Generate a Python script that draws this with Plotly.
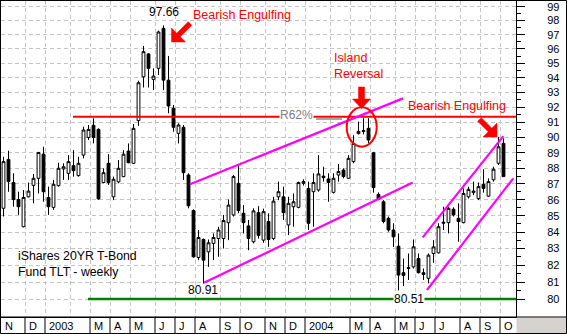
import math
import plotly.graph_objects as go

# ---------------- data (weekly TLT candles, index 0 = week ending 1 Nov 2002) -------------
opens = [85.47, 88.57, 87.09, 86.02, 84.33, 86.19, 86.91, 87.36, 88.91, 86.15,
         85.53, 86.89, 87.96, 87.68, 88.17, 87.53, 88.85, 90.00, 90.80, 90.53,
         87.09, 88.32, 86.19, 87.13, 87.47, 89.11, 88.32, 91.11, 94.07, 95.65,
         93.89, 94.65, 97.45, 93.84, 91.93, 90.27, 90.67, 87.57, 85.33, 82.46,
         83.55, 82.80, 83.31, 83.61, 83.61, 84.58, 85.06, 87.04, 85.16, 84.38,
         83.41, 85.20, 83.51, 84.65, 83.61, 86.19, 86.19, 84.44, 85.57, 85.53,
         87.04, 86.72, 86.51, 86.62, 87.50, 87.32, 86.47, 87.57, 87.89, 87.36,
         88.43, 90.25, 90.45, 90.60, 89.00, 86.34, 85.88, 84.85, 84.13, 83.14,
         81.55, 81.80, 81.90, 82.40, 81.55, 81.22, 82.70, 82.74, 84.54, 84.58,
         85.41, 84.85, 84.58, 86.19, 86.45, 86.08, 86.98, 86.23, 87.26, 88.32,
         89.61]
highs = [88.74, 89.13, 87.68, 86.51, 86.62, 87.09, 87.64, 89.06, 89.39, 86.83,
         87.26, 88.36, 88.32, 88.85, 89.17, 88.74, 90.71, 90.82, 91.27, 90.60,
         88.00, 88.91, 87.47, 88.53, 89.17, 89.61, 90.89, 93.80, 96.21, 95.70,
         94.65, 97.29, 97.66, 95.51, 92.16, 90.93, 90.82, 87.68, 85.40, 84.13,
         83.61, 83.55, 83.92, 84.33, 85.06, 86.02, 87.57, 88.21, 85.67, 84.75,
         85.47, 85.60, 85.45, 85.16, 86.19, 87.15, 86.83, 86.19, 86.40, 87.15,
         87.30, 87.15, 87.68, 88.85, 88.10, 87.68, 87.68, 88.28, 88.00, 88.85,
         90.15, 91.04, 91.27, 91.27, 89.06, 86.47, 85.98, 84.96, 84.54, 83.92,
         82.40, 82.70, 83.55, 82.70, 81.80, 82.70, 83.51, 84.54, 85.57, 85.57,
         85.53, 85.78, 86.72, 86.83, 87.15, 87.09, 87.94, 87.36, 88.10, 90.04,
         89.94]
lows = [84.96, 86.51, 85.57, 85.06, 84.29, 86.15, 85.78, 86.40, 85.88, 85.06,
        85.37, 86.83, 87.26, 87.26, 87.47, 87.47, 88.64, 89.83, 89.61, 86.00,
        87.04, 86.94, 85.98, 87.04, 87.43, 88.32, 88.28, 90.76, 93.34, 93.34,
        93.16, 94.19, 93.16, 91.60, 90.38, 89.61, 87.26, 85.47, 82.45, 82.30,
        80.91, 81.90, 82.30, 82.50, 83.00, 83.51, 84.96, 85.16, 83.92, 82.90,
        83.31, 83.60, 83.35, 83.10, 83.51, 85.98, 84.75, 83.82, 84.33, 85.47,
        86.90, 84.13, 84.33, 86.51, 87.15, 85.88, 86.40, 87.15, 87.36, 87.36,
        88.32, 90.20, 90.20, 89.61, 86.45, 85.98, 84.54, 84.02, 83.10, 80.51,
        80.76, 81.12, 81.80, 81.51, 81.12, 80.92, 82.14, 82.70, 84.13, 83.92,
        84.96, 83.41, 84.54, 86.08, 86.30, 85.98, 86.45, 86.19, 87.15, 88.21,
        87.47]
closes = [88.43, 87.15, 86.02, 85.57, 86.15, 86.55, 87.36, 89.02, 86.51, 85.57,
          86.98, 88.00, 88.10, 88.43, 87.85, 88.32, 90.49, 90.53, 90.00, 86.06,
          87.72, 87.09, 87.30, 88.00, 88.91, 88.36, 90.60, 93.66, 95.81, 94.65,
          94.12, 97.19, 93.84, 92.09, 90.67, 90.82, 87.72, 85.63, 82.50, 83.67,
          82.30, 83.35, 83.67, 84.13, 84.71, 85.67, 87.47, 85.33, 84.58, 83.61,
          85.31, 83.80, 85.26, 83.55, 85.92, 86.51, 85.20, 85.78, 85.88, 87.09,
          87.15, 84.54, 87.09, 87.64, 87.40, 87.09, 87.36, 87.79, 87.47, 88.64,
          89.61, 90.40, 90.40, 89.83, 86.77, 86.04, 84.65, 84.13, 83.71, 81.41,
          81.39, 81.85, 83.10, 81.55, 81.45, 82.60, 83.10, 84.33, 84.60, 85.47,
          85.06, 84.65, 86.40, 86.66, 86.55, 86.83, 86.72, 87.15, 87.94, 89.39,
          87.47]
week_idx = list(range(len(opens)))
assert len(opens) == len(highs) == len(lows) == len(closes) == 101

# month axis: label and index of first weekly bar in that month
month_labels = ["N", "D", "2003", "F", "M", "A", "M", "J", "J", "A", "S", "O",
                "N", "D", "2004", "F", "M", "A", "M", "J", "J", "A", "S", "O"]
month_first_bar = [0, 5, 9, 14, 18, 22, 26, 31, 35, 39, 44, 48,
                   53, 57, 61, 66, 70, 74, 79, 83, 87, 92, 96, 100]
month_shown = [True, True, True, False, True, True, True, True, True, True, True, True,
               True, True, True, False, True, True, True, True, True, True, True, True]

price_ticks = list(range(80, 100))

# annotation levels / trend lines (x in week index, y in price)
resistance_level = 91.37
retrace_level = 91.22
support_level = 80.0
trend_lines = [((37.3, 86.98), (79.9, 92.60)),
               ((40.1, 80.95), (81.84, 87.10)),
               ((83.84, 83.68), (99.96, 90.09)),
               ((84.7, 80.53), (101.96, 87.36))]

# ---------------- layout geometry ----------------
W, H = 567, 334
ML, MR, MT, MB = 1, 51, 1, 17
PW, PH = W - ML - MR, H - MT - MB
X0, X1 = -0.5, 102.5
Y0, Y1 = 78.96, 99.412
BOUND_OFF = 0.7

def fx(xp):  # pixel -> paper x
    return (xp - ML) / PW

def fy(yp):  # pixel -> paper y
    return 1 - (yp - MT) / PH

def dx(x):   # data x -> paper x
    return (x - X0) / (X1 - X0)

FONT = "Arial, Liberation Sans, sans-serif"

fig = go.Figure()

fig.add_trace(go.Candlestick(
    x=week_idx, open=opens, high=highs, low=lows, close=closes,
    increasing=dict(fillcolor="white", line=dict(color="black", width=1)),
    decreasing=dict(fillcolor="black", line=dict(color="black", width=1)),
    whiskerwidth=0, hoverinfo="skip", showlegend=False))

# horizontal levels
fig.add_trace(go.Scatter(x=[13.9, X1], y=[resistance_level] * 2, mode="lines",
                         line=dict(color="#ff0000", width=2), hoverinfo="skip"))
fig.add_trace(go.Scatter(x=[62.5, 67.7], y=[retrace_level] * 2, mode="lines",
                         line=dict(color="#a8a8a8", width=2), hoverinfo="skip"))
fig.add_trace(go.Scatter(x=[16.9, X1], y=[support_level] * 2, mode="lines",
                         line=dict(color="#008000", width=2.5), hoverinfo="skip"))
for (a, b) in trend_lines:
    fig.add_trace(go.Scatter(x=[a[0], b[0]], y=[a[1], b[1]], mode="lines",
                             line=dict(color="#ff00ff", width=2.2), hoverinfo="skip"))

shapes = []
# outer frame and x-axis strip
shapes.append(dict(type="rect", xref="paper", yref="paper", x0=fx(0.5), x1=fx(566.5),
                   y0=fy(333.5), y1=fy(0.5), line=dict(color="black", width=1)))
shapes.append(dict(type="rect", xref="paper", yref="paper", x0=fx(516.5), x1=fx(566),
                   y0=fy(333), y1=fy(317.5), fillcolor="#d6d3ce", line=dict(width=0)))
shapes.append(dict(type="line", xref="paper", yref="paper", x0=fx(0), x1=fx(567),
                   y0=fy(317), y1=fy(317), line=dict(color="black", width=1)))
bounds = [k - BOUND_OFF for k in month_first_bar]
for b, show in zip(bounds, month_shown):
    if show and b > X0:
        shapes.append(dict(type="line", xref="paper", yref="paper", x0=dx(b), x1=dx(b),
                           y0=fy(317), y1=fy(334), line=dict(color="black", width=1)))

# island ellipse
shapes.append(dict(type="circle", xref="paper", yref="paper", x0=fx(346.7), x1=fx(376.7),
                   y0=fy(146.7), y1=fy(107.3), line=dict(color="#ff0000", width=2)))

def poly(pts):
    s = "M " + " L ".join(f"{fx(x):.5f},{fy(y):.5f}" for x, y in pts) + " Z"
    return dict(type="path", xref="paper", yref="paper", path=s,
                fillcolor="#ff0000", line=dict(color="#ff0000", width=0.5))

shapes.append(poly([(171.5, 42), (171.5, 28), (176.7, 33.2), (188.2, 21.7), (191.8, 25.3),
                    (180.3, 36.8), (185.5, 42)]))
shapes.append(poly([(358.5, 87), (364.5, 87), (364.5, 99), (370.5, 99), (361.5, 108.5),
                    (352.5, 99), (358.5, 99)]))
shapes.append(poly([(497, 137), (497, 123), (491.8, 128.2), (481.3, 117.7), (477.7, 121.3),
                    (488.2, 131.8), (483, 137)]))

ann = []
def text(x, y, s, color="black", size=12, xanchor="left", bg=None):
    d = dict(xref="paper", yref="paper", x=fx(x), y=fy(y), text=s, showarrow=False,
             xanchor=xanchor, yanchor="middle", font=dict(family=FONT, size=size, color=color),
             borderpad=0)
    if bg:
        d["bgcolor"] = bg
    ann.append(d)

text(164, 12, "97.66", xanchor="center")
text(191.5, 14.5, "Bearish Engulfing", "#ff0000", 12.5)
text(333, 58, "Island", "#ff0000", 12.5)
text(333, 73.5, "Reversal", "#ff0000", 12.5)
text(406.5, 106, "Bearish Engulfing", "#ff0000", 12.5)
text(296, 115.5, "R62%", "#808080", 12, "center", bg="white")
text(16.5, 255.5, "iShares 20YR T-Bond", "black", 12.3)
text(16.5, 271.5, "Fund TLT - weekly", "black", 12.3)
text(202.5, 290, "80.91", xanchor="center")
text(408.5, 298.5, "80.51", xanchor="center", bg="white")

for b, lab, show in zip(bounds, month_labels, month_shown):
    if show:
        ann.append(dict(xref="paper", yref="paper", x=max(dx(b), fx(0.5)), y=fy(325.5),
                        text=lab, showarrow=False, xanchor="left", yanchor="middle",
                        xshift=2, font=dict(family=FONT, size=11, color="black")))

fig.update_layout(
    width=W, height=H, margin=dict(l=ML, r=MR, t=MT, b=MB, pad=0),
    paper_bgcolor="white", plot_bgcolor="white", showlegend=False,
    boxgap=0.2,
    xaxis=dict(type="linear", range=[X0, X1], tickmode="array",
               tickvals=[b for b in bounds if b > X0], showticklabels=False, ticks="",
               showgrid=True, gridcolor="#c4c4c4", griddash="4px,3px", gridwidth=1,
               zeroline=False, showline=True, linecolor="black", linewidth=1, mirror=True,
               rangeslider=dict(visible=False), fixedrange=True),
    yaxis=dict(type="log", range=[math.log10(Y0), math.log10(Y1)], side="right",
               tickmode="array", tickvals=price_ticks, ticktext=[str(v) for v in price_ticks],
               ticks="outside", ticklen=8, tickcolor="black", tickwidth=1,
               ticklabelstandoff=20,
               tickfont=dict(family=FONT, size=11, color="black"),
               minor=dict(tickmode="array", tickvals=[v + 0.5 for v in price_ticks[:-1]],
                          ticks="outside", ticklen=4, tickcolor="black", showgrid=False),
               showgrid=True, gridcolor="#c4c4c4", griddash="4px,3px", gridwidth=1,
               zeroline=False, showline=True, linecolor="black", linewidth=1, mirror=True,
               fixedrange=True),
    shapes=shapes, annotations=ann,
)

fig.write_html("out.html")
